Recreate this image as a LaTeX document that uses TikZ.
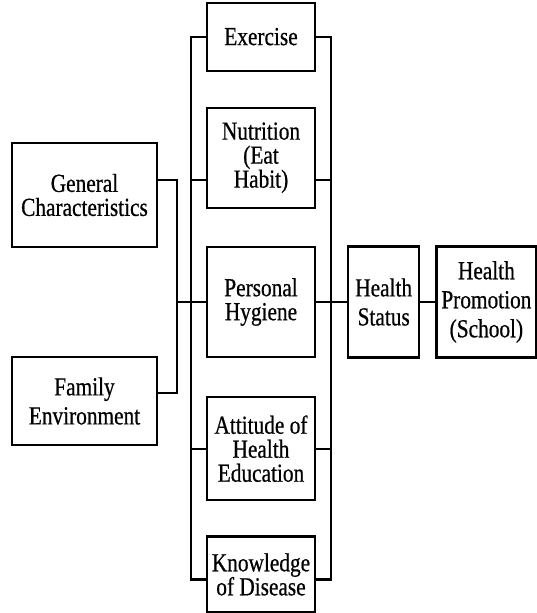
\documentclass[tikz,border=0pt]{standalone}
\usepackage{fontspec}
\setmainfont{Liberation Serif}[FakeStretch=0.82,FakeBold=0.6]
\usetikzlibrary{positioning}
\tikzset{
  box/.style={draw,line width=2.2pt,align=center,inner sep=2pt,font=\fontsize{26}{24}\selectfont},
  widebox/.style={box,font=\fontsize{26}{29}\selectfont},
  midbox/.style={box,minimum width=108pt},
  link/.style={line width=2.2pt}
}

\begin{document}
\begin{tikzpicture}[x=1pt,y=-1pt,node distance=36pt]
\useasboundingbox (0,0) rectangle (536,613);
% middle column
\node[midbox,minimum height=110pt] (hygiene) at (261,302) {Personal\\Hygiene};
\node[midbox,minimum height=100pt,above=37pt of hygiene] (nutrition) {Nutrition\\(Eat\\Habit)};
\node[midbox,minimum height=68pt,above=35pt of nutrition] (exercise) {Exercise};
\node[midbox,minimum height=103pt,below=38pt of hygiene] (attitude) {Attitude of\\Health\\Education};
\node[midbox,minimum height=76pt,below=34pt of attitude] (knowledge) {Knowledge\\of Disease};
% right side
\node[widebox,minimum width=71pt,minimum height=111pt,right=31pt of hygiene] (status) {Health\\Status};
\node[widebox,minimum width=100pt,minimum height=111pt,right=15pt of status] (promotion) {Health\\Promotion\\(School)};
% left side
\node[box,minimum width=145pt,minimum height=104pt] (general) at (84.5,195) {General\\Characteristics};
\node[widebox,minimum width=145pt,minimum height=88pt] (family) at (84.5,401) {Family\\Environment};
% buses
\draw[link] (exercise.west) -- ++(-15pt,0) coordinate (lbus) |- ([yshift=-5pt]knowledge.west);
\draw[link] (exercise.east) -- ++(15pt,0) coordinate (rbus) |- ([yshift=-5pt]knowledge.east);
\draw[link] ([yshift=-22pt]nutrition.west) -- ([yshift=-22pt]nutrition.west -| lbus);
\draw[link] ([yshift=-22pt]nutrition.east) -- ([yshift=-22pt]nutrition.east -| rbus);
\draw[link] (attitude.west) -- (attitude.west -| lbus);
\draw[link] (attitude.east) -- (attitude.east -| rbus);
\draw[link] (hygiene.west) -- (hygiene.west -| lbus);
\draw[link] (hygiene.east) -- (status.west);
\draw[link] (status.east) -- (promotion.west);
% inputs
\draw[link] ([yshift=15pt]general.east) -- ++(19pt,0) |- (hygiene.west);
\draw[link] ([yshift=8pt]family.east) -- ++(19pt,0) |- (hygiene.west);
\end{tikzpicture}
\end{document}
